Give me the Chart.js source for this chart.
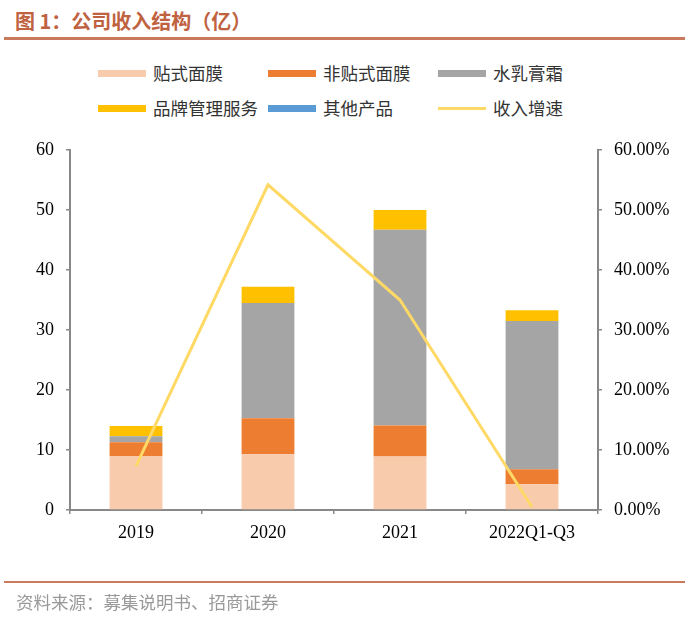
<!DOCTYPE html>
<html>
<head>
<meta charset="utf-8">
<script src="https://cdn.jsdelivr.net/npm/chart.js@4/dist/chart.umd.min.js"></script>
<style>
  body { margin: 0; width: 700px; height: 619px; position: relative; background: #fff; overflow: hidden; }
  #title { position: absolute; left: 15px; top: 6px; line-height: 28px; font: bold 20px 'Noto Sans CJK SC'; color: #C0623F; white-space: nowrap; }
  .rule { position: absolute; left: 4px; width: 681px; background: #C97A5D; }
  #source { position: absolute; left: 16px; top: 589px; line-height: 26px; font: 17.5px 'Noto Sans CJK SC'; color: #999; white-space: nowrap; }
  .lg { position: absolute; height: 26px; line-height: 26px; font: 17.5px 'Noto Sans CJK SC'; color: #333; white-space: nowrap; }
  .lg i { position: absolute; left: 0; width: 48px; }
  .lg span { position: absolute; left: 55px; top: 0; }
  canvas { position: absolute; left: 0; top: 0; }
</style>
</head>
<body>
<div id="title">图 1：公司收入结构（亿）</div>
<div class="rule" style="top:37px;height:3px"></div>
<div id="legend"></div>
<canvas id="chart" width="700" height="619"></canvas>
<div class="rule" style="top:581px;height:2px"></div>
<div id="source">资料来源：募集说明书、招商证券</div>
<script>
// 数据（亿元）
const categories = ['2019', '2020', '2021', '2022Q1-Q3'];
const tieshi     = [9.0, 9.3, 8.9, 4.3];     // 贴式面膜
const feiTieshi  = [2.3, 6.0, 5.2, 2.5];     // 非贴式面膜
const shuiru     = [1.0, 19.2, 32.6, 24.7];  // 水乳膏霜
const pinpai     = [1.7, 2.7, 3.3, 1.8];     // 品牌管理服务
const qita       = [0, 0, 0, 0];             // 其他产品
const zengsu     = [7.3, 54.2, 35.0, 0.5];   // 收入增速 %

const colors = {
  tieshi: '#F8CBAD', feiTieshi: '#ED7D31', shuiru: '#A5A5A5',
  pinpai: '#FFC000', qita: '#5B9BD5', zengsu: '#FFD966'
};

// 图例（两行三列）
const legendItems = [
  ['贴式面膜', colors.tieshi, 98, 73, false],
  ['非贴式面膜', colors.feiTieshi, 268, 73, false],
  ['水乳膏霜', colors.shuiru, 438, 73, false],
  ['品牌管理服务', colors.pinpai, 98, 108, false],
  ['其他产品', colors.qita, 268, 108, false],
  ['收入增速', colors.zengsu, 438, 108, true]
];
const legendEl = document.getElementById('legend');
legendItems.forEach(([text, color, x, y, isLine]) => {
  const d = document.createElement('div');
  d.className = 'lg';
  d.style.left = x + 'px';
  d.style.top = (y - 13) + 'px';
  const h = isLine ? 3 : 7;
  d.innerHTML = `<i style="top:${13 - h / 2}px;height:${h}px;background:${color}"></i><span>${text}</span>`;
  legendEl.appendChild(d);
});

Chart.defaults.font.family = "'Liberation Serif', 'Times New Roman', serif";
Chart.defaults.font.size = 18;
Chart.defaults.color = '#000';

function bar(label, data, color) {
  return { type: 'bar', label, data, backgroundColor: color, stack: 's', order: 1,
           yAxisID: 'y', categoryPercentage: 1, barPercentage: 0.4 };
}

new Chart(document.getElementById('chart'), {
  data: {
    labels: categories,
    datasets: [
      { type: 'line', label: '收入增速', data: zengsu, borderColor: colors.zengsu, borderWidth: 3,
        pointRadius: 0, tension: 0, fill: false, yAxisID: 'y1', order: 0 },
      bar('贴式面膜', tieshi, colors.tieshi),
      bar('非贴式面膜', feiTieshi, colors.feiTieshi),
      bar('水乳膏霜', shuiru, colors.shuiru),
      bar('品牌管理服务', pinpai, colors.pinpai),
      bar('其他产品', qita, colors.qita)
    ]
  },
  options: {
    responsive: false,
    animation: false,
    layout: { padding: { top: 150, bottom: 69, left: 0, right: 0 } },
    plugins: { legend: { display: false }, tooltip: { enabled: false } },
    scales: {
      x: {
        stacked: true,
        grid: { offset: true, drawOnChartArea: false, drawTicks: true, tickLength: 4, color: '#888', lineWidth: 1.5 },
        border: { color: '#888', width: 2 },
        ticks: { padding: 8 },
        afterFit: s => { s.height = 40; }
      },
      y: {
        stacked: true, position: 'left', min: 0, max: 60,
        ticks: { stepSize: 10, padding: 12 },
        grid: { drawOnChartArea: false, tickLength: 4, color: '#888', lineWidth: 1.5 },
        border: { color: '#888', width: 2 },
        afterFit: s => { s.width = 70; }
      },
      y1: {
        position: 'right', min: 0, max: 60,
        ticks: { stepSize: 10, padding: 12, callback: v => v.toFixed(2) + '%' },
        grid: { drawOnChartArea: false, tickLength: 4, color: '#888', lineWidth: 1.5 },
        border: { color: '#888', width: 2 },
        afterFit: s => { s.width = 102; }
      }
    }
  }
});
</script>
</body>
</html>
